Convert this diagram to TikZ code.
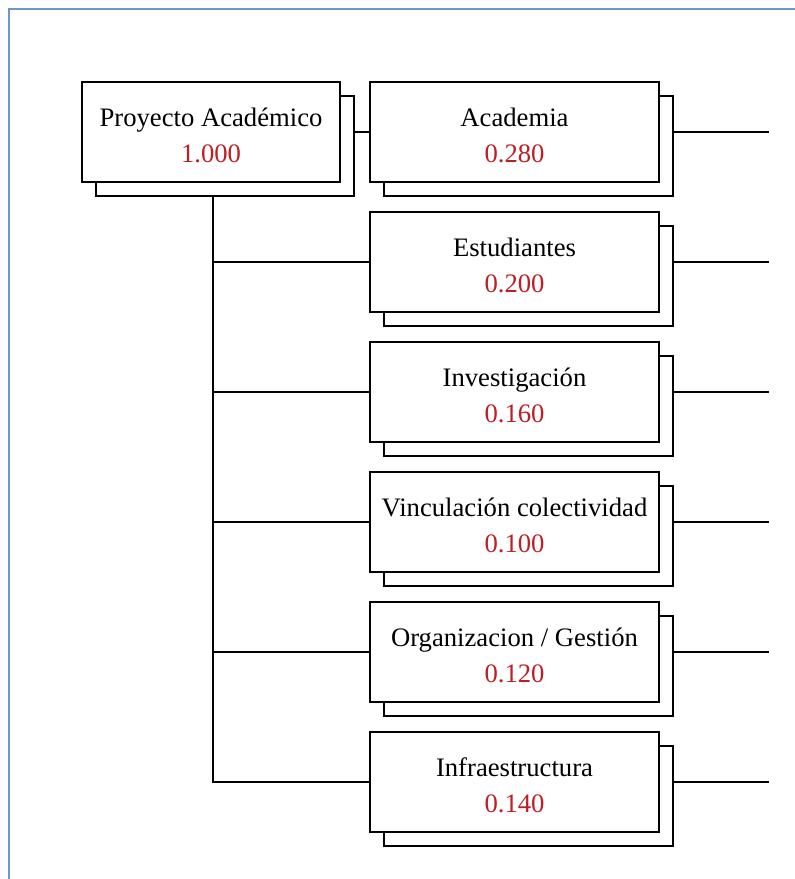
\documentclass[tikz,border=0pt]{standalone}
\usepackage{fontspec}
\setmainfont{Liberation Serif}
\usepackage{xcolor}
\usetikzlibrary{positioning,shadows,backgrounds}
\definecolor{marco}{RGB}{111,149,203}
\definecolor{peso}{RGB}{190,30,36}
\newcommand{\rubro}[2]{\rule{0pt}{19.5pt}#1\\\textcolor{peso}{#2}}

\begin{document}
\begin{tikzpicture}[x=0.75pt,y=-0.75pt,node distance=97.5pt,
		caja/.style={draw=black,fill=white,line width=1pt,minimum width=216.75pt,minimum height=75pt,
			inner sep=0pt,align=center,font=\fontsize{20}{27}\selectfont,
			copy shadow={shadow xshift=10.5pt,shadow yshift=-10.5pt,draw=black,fill=white,line width=1pt}},
		linea/.style={line width=1pt}]
		\useasboundingbox (0,0) rectangle (795,879);
		\draw[marco,line width=1.8pt] (9,879) -- (9,9) -- (795,9);
		\node[caja,minimum width=193.5pt] (A) at (211,132) {\rubro{Proyecto Académico}{1.000}};
		\node[caja] (B) at (514.5,132) {\rubro{Academia}{0.280}};
		\node[caja] (C) [below of=B] {\rubro{Estudiantes}{0.200}};
		\node[caja] (D) [below of=C] {\rubro{Investigación}{0.160}};
		\node[caja] (E) [below of=D] {\rubro{Vinculación colectividad}{0.100}};
		\node[caja] (F) [below of=E] {\rubro{Organizacion / Gestión}{0.120}};
		\node[caja] (G) [below of=F] {\rubro{Infraestructura}{0.140}};
		\coordinate (fin) at (769,0);
		\coordinate (baja) at ([xshift=1.5pt]A.south);
		\begin{scope}[on background layer]
			\draw[linea] (A) -- (B);
			\draw[linea] (baja) |- (C);
			\draw[linea] (baja) |- (D);
			\draw[linea] (baja) |- (E);
			\draw[linea] (baja) |- (F);
			\draw[linea] (baja) |- (G);
			\draw[linea] (B) -- (B -| fin);
			\draw[linea] (C) -- (C -| fin);
			\draw[linea] (D) -- (D -| fin);
			\draw[linea] (E) -- (E -| fin);
			\draw[linea] (F) -- (F -| fin);
			\draw[linea] (G) -- (G -| fin);
		\end{scope}
\end{tikzpicture}
\end{document}
